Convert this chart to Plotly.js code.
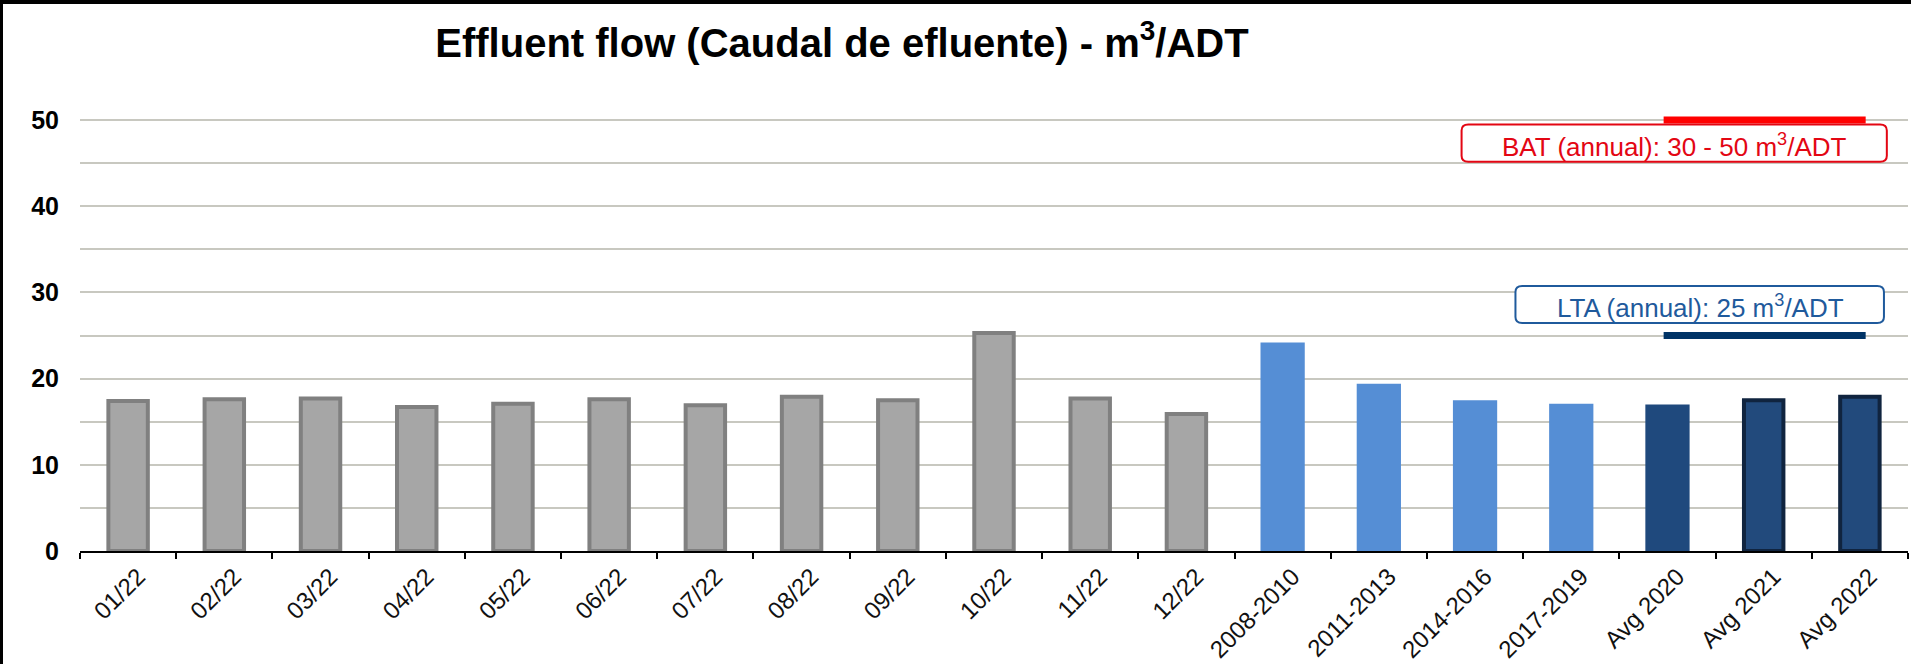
<!DOCTYPE html>
<html>
<head>
<meta charset="utf-8">
<script src="https://cdn.plot.ly/plotly-3.0.1.min.js"></script>
<style>
  html, body { margin: 0; padding: 0; background: #fff; }
  #wrap { position: relative; width: 1911px; height: 664px; }
  #chart { width: 1911px; height: 664px; }
  #frame { position: absolute; left: 0; top: 0; width: 1911px; height: 664px;
           border-left: 3px solid #000; border-top: 4px solid #000; box-sizing: border-box; pointer-events: none; }
</style>
</head>
<body>
<div id="wrap">
  <div id="chart"></div>
  <div id="frame"></div>
</div>
<script>
// ---- data ----
const monthCats = ['01/22','02/22','03/22','04/22','05/22','06/22','07/22','08/22','09/22','10/22','11/22','12/22'];
const monthVals = [17.4, 17.6, 17.7, 16.7, 17.1, 17.6, 16.9, 17.9, 17.5, 25.3, 17.7, 15.9];
const periodCats = ['2008-2010','2011-2013','2014-2016','2017-2019'];
const periodVals = [24.2, 19.4, 17.5, 17.1];
const avg2020Cats = ['Avg 2020'];
const avg2020Vals = [17.0];
const recentCats = ['Avg 2021','Avg 2022'];
const recentVals = [17.5, 17.9];
const batMin = 30;
const batMax = 50;
const ltaLevel = 25;
const yTicks = [0, 10, 20, 30, 40, 50];

const allCats = monthCats.concat(periodCats, avg2020Cats, recentCats);
const FONT = '"Liberation Sans", Arial, sans-serif';

const traces = [
  { type: 'bar', x: monthCats, y: monthVals, width: 0.41,
    marker: { color: '#a6a6a6', line: { color: '#808080', width: 4 } } },
  { type: 'bar', x: periodCats, y: periodVals, width: 0.46,
    marker: { color: '#558ed5', line: { width: 0 } } },
  { type: 'bar', x: avg2020Cats, y: avg2020Vals, width: 0.46,
    marker: { color: '#1f497d', line: { width: 0 } } },
  { type: 'bar', x: recentCats, y: recentVals, width: 0.41,
    marker: { color: '#224a7c', line: { color: '#10243f', width: 4 } } }
];

function roundRect(x0, x1, y0, y1, rx, ry) {
  return 'M' + (x0 + rx) + ',' + y1 +
    ' L' + (x1 - rx) + ',' + y1 +
    ' Q' + x1 + ',' + y1 + ' ' + x1 + ',' + (y1 - ry) +
    ' L' + x1 + ',' + (y0 + ry) +
    ' Q' + x1 + ',' + y0 + ' ' + (x1 - rx) + ',' + y0 +
    ' L' + (x0 + rx) + ',' + y0 +
    ' Q' + x0 + ',' + y0 + ' ' + x0 + ',' + (y0 + ry) +
    ' L' + x0 + ',' + (y1 - ry) +
    ' Q' + x0 + ',' + y1 + ' ' + (x0 + rx) + ',' + y1 + ' Z';
}

const RED = '#e30613';
const LBLUE = '#1f5a9c';

const layout = {
  width: 1911, height: 664,
  margin: { l: 80, r: 3, t: 77, b: 113 },
  paper_bgcolor: '#ffffff', plot_bgcolor: '#ffffff',
  showlegend: false,
  barmode: 'overlay',
  font: { family: FONT, color: '#000' },
  title: {
    text: 'Effluent flow (Caudal de efluente) - m<sup>3</sup>/ADT',
    font: { family: FONT, size: 40, color: '#000', weight: 'bold' },
    xref: 'container', x: 0.4406, xanchor: 'center',
    yref: 'container', y: 0.935, yanchor: 'middle'
  },
  xaxis: {
    type: 'category', categoryorder: 'array', categoryarray: allCats,
    range: [-0.5, allCats.length - 0.5],
    showline: true, linecolor: '#000', linewidth: 2,
    ticks: 'outside', ticklen: 6, tickwidth: 2, tickcolor: '#000',
    tickson: 'boundaries', tickangle: -45, ticklabelshift: 10,
    tickfont: { family: FONT, size: 24, color: '#111' },
    showgrid: false, zeroline: false, fixedrange: true
  },
  yaxis: {
    range: [0, 55], tickvals: yTicks, ticktext: yTicks.map(String),
    showgrid: true, gridcolor: '#c8c8c0', gridwidth: 2,
    minor: { dtick: 5, tick0: 0, showgrid: true, gridcolor: '#c8c8c0', gridwidth: 2 },
    showline: false, zeroline: false, ticks: '',
    ticklabelstandoff: 20,
    tickfont: { family: FONT, size: 25, color: '#000', weight: 'bold' },
    fixedrange: true
  },
  shapes: [
    { type: 'line', xref: 'x', yref: 'y', x0: 15.96, x1: 18.06, y0: batMax, y1: batMax,
      line: { color: '#ff0000', width: 7 } },
    { type: 'line', xref: 'x', yref: 'y', x0: 15.96, x1: 18.06, y0: ltaLevel, y1: ltaLevel,
      line: { color: '#003366', width: 7 } },
    { type: 'path', xref: 'x', yref: 'y', path: roundRect(13.86, 18.28, 45.17, 49.48, 0.07, 0.7),
      line: { color: RED, width: 2 }, fillcolor: '#ffffff' },
    { type: 'path', xref: 'x', yref: 'y', path: roundRect(14.42, 18.25, 26.45, 30.76, 0.07, 0.7),
      line: { color: LBLUE, width: 2 }, fillcolor: '#ffffff' }
  ],
  annotations: [
    { xref: 'x', yref: 'y', x: 16.07, y: 47.0, showarrow: false,
      text: 'BAT (annual): ' + batMin + ' - ' + batMax + ' m<sup>3</sup>/ADT',
      font: { family: FONT, size: 26, color: RED } },
    { xref: 'x', yref: 'y', x: 16.34, y: 28.4, showarrow: false,
      text: 'LTA (annual): ' + ltaLevel + ' m<sup>3</sup>/ADT',
      font: { family: FONT, size: 26, color: LBLUE } }
  ]
};

Plotly.newPlot('chart', traces, layout, { displayModeBar: false, staticPlot: true });
</script>
</body>
</html>
